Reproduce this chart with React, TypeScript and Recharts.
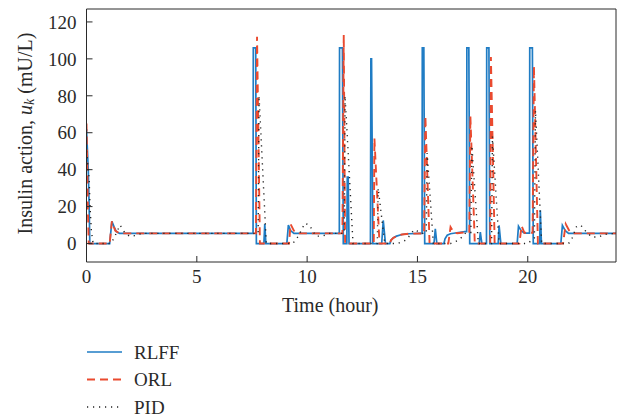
import React from "react";
import { Line, LineChart, XAxis, YAxis } from "recharts";

// [time (hour), insulin action (mU/L)]
const rlffPoints: [number, number][] = [
  [0, 62], [0.08, 40], [0.12, 20], [0.15, 0], [1.05, 0], [1.15, 12], [1.25, 9], [1.35, 6.5], [1.5, 5.5],
  [7.55, 5.5], [7.56, 106], [7.67, 106], [7.7, 0], [8.04, 0], [8.08, 10.5], [8.13, 0],
  [9.08, 0], [9.15, 10], [9.25, 7], [9.4, 5.5], [11.46, 5.5], [11.47, 106], [11.6, 106], [11.64, 0],
  [11.8, 0], [11.82, 36], [11.86, 36], [11.9, 0], [12.87, 0], [12.89, 100], [12.92, 100], [12.98, 0],
  [13.38, 0], [13.45, 12.5], [13.55, 0], [13.75, 0], [13.8, 1.8], [13.9, 3], [14.05, 4], [14.3, 4.9],
  [14.6, 5.3], [15.1, 5.5], [15.21, 5.5], [15.22, 106], [15.29, 106], [15.33, 0], [15.75, 0], [15.81, 8],
  [15.88, 0], [16.2, 0], [16.25, 2.5], [16.35, 4.5], [16.5, 5.3], [17.15, 6.5], [17.23, 6.5], [17.24, 106],
  [17.33, 106], [17.37, 0], [17.8, 0], [17.85, 6.2], [17.92, 0], [18.13, 0], [18.14, 106], [18.24, 106],
  [18.28, 0], [18.66, 0], [18.7, 9.8], [18.78, 0], [19.52, 0], [19.58, 9.4], [19.7, 7], [19.85, 5.6],
  [20.08, 5.6], [20.09, 106], [20.21, 106], [20.25, 0], [20.54, 0], [20.57, 18], [20.62, 0], [21.5, 0],
  [21.57, 9.8], [21.7, 7], [21.85, 5.5], [24, 5.5],
];

const orlPoints: [number, number][] = [
  [0, 65], [0.03, 45], [0.06, 20], [0.1, 0], [1.05, 0], [1.15, 12], [1.3, 7], [1.5, 5.5],
  [7.68, 5.5], [7.73, 112], [7.86, 0], [9.18, 0], [9.25, 10.5], [9.4, 7], [9.55, 5.5],
  [11.6, 5.5], [11.66, 113], [11.72, 0], [13.02, 0], [13.05, 57], [13.28, 0], [13.75, 0], [13.8, 1.8],
  [13.9, 3], [14.05, 4], [14.3, 4.9], [14.6, 5.3], [15.3, 5.5], [15.36, 69], [15.55, 0], [16.4, 0],
  [16.5, 8.9], [16.65, 6], [16.8, 5.6], [17.35, 6.3], [17.4, 69], [17.6, 0], [18.3, 0], [18.33, 101],
  [18.5, 0], [19.62, 0], [19.72, 9.5], [19.85, 5.8], [20.22, 5.8], [20.28, 96], [20.46, 0], [21.6, 0],
  [21.72, 10.5], [21.9, 6.5], [22.1, 5.5], [24, 5.5],
];

const pidPoints: [number, number][] = [
  [0, 50], [0.12, 35], [0.16, 20], [0.22, 7], [0.3, 0], [1.1, 0], [1.25, 3], [1.52, 10], [1.72, 6.2],
  [1.94, 4], [2.2, 4.3], [2.5, 5.5], [7.78, 5.5], [7.82, 80], [8.15, 0], [9.35, 0], [9.6, 4], [9.9, 11],
  [10.1, 10], [10.4, 4], [10.7, 4], [11.0, 5.5], [11.68, 5.5], [11.72, 80], [12.08, 0], [13.18, 0],
  [13.22, 30], [13.52, 0], [14.1, 0], [14.5, 2], [14.85, 7.5], [15.25, 5.5], [15.4, 5.5], [15.44, 49],
  [15.72, 0], [16.5, 0], [16.9, 2], [17.2, 6], [17.42, 6], [17.47, 53], [17.76, 0], [18.36, 0], [18.4, 58],
  [18.7, 0], [20.0, 0], [20.3, 3], [20.35, 72], [20.63, 0], [21.85, 0], [22.0, 2.5], [22.2, 9], [22.4, 10],
  [22.6, 7], [22.9, 3.5], [23.2, 3.5], [23.5, 5], [24, 5.5],
];

const xTicks = [0, 5, 10, 15, 20];
const yTicks = [0, 20, 40, 60, 80, 100, 120];

const series = [
  { name: "RLFF", points: rlffPoints, color: "#1f7cc4", dash: undefined, width: 1.7 },
  { name: "ORL", points: orlPoints, color: "#ea4a2f", dash: "8 5", width: 1.9 },
  { name: "PID", points: pidPoints, color: "#222222", dash: "1.2 4.8", width: 1.4 },
];

const font = "'Liberation Serif', 'Times New Roman', serif";
const ink = "#2a2a2a";
const tickStyle = { fontSize: 19, fill: ink, fontFamily: font };

function YLabel({ viewBox }: any) {
  const cx = 25;
  const cy = viewBox.y + viewBox.height / 2 - 2;
  return (
    <text
      x={cx}
      y={cy}
      transform={`rotate(-90, ${cx}, ${cy})`}
      textAnchor="middle"
      dominantBaseline="central"
      fontSize={20}
      fontFamily={font}
      fill={ink}
    >
      Insulin action, <tspan fontStyle="italic">u</tspan>
      <tspan fontStyle="italic" fontSize={14} dy={4}>k</tspan>
      <tspan dy={-4}> (mU/L)</tspan>
    </text>
  );
}

function XLabel({ viewBox }: any) {
  return (
    <text
      x={viewBox.x + viewBox.width / 2 - 21}
      y={viewBox.y + 43}
      textAnchor="middle"
      dominantBaseline="central"
      fontSize={20}
      fontFamily={font}
      fill={ink}
    >
      Time (hour)
    </text>
  );
}

function LegendBox() {
  return (
    <svg width={200} height={90} style={{ position: "absolute", left: 80, top: 330 }}>
      {series.map((s, i) => {
        const y = 22 + i * 27.5;
        return (
          <g key={s.name}>
            <line x1={7} x2={42} y1={y} y2={y} stroke={s.color} strokeWidth={s.width} strokeDasharray={s.dash} />
            <text x={54} y={y} dominantBaseline="central" fontSize={19} fontFamily={font} fill={ink}>
              {s.name}
            </text>
          </g>
        );
      })}
    </svg>
  );
}

export default function App() {
  return (
    <div style={{ position: "absolute", left: 0, top: 0, width: 622, height: 417, background: "#fff" }}>
      <LineChart width={622} height={417} margin={{ top: 8, right: 5, left: 0, bottom: 95 }}>
        <XAxis
          xAxisId="bottom"
          type="number"
          dataKey="t"
          domain={[0, 24]}
          ticks={xTicks}
          allowDataOverflow
          height={60}
          tickSize={-6}
          tickMargin={14}
          tick={tickStyle}
          stroke={ink}
          tickLine={{ stroke: ink }}
          label={<XLabel />}
        />
        <XAxis
          xAxisId="top"
          orientation="top"
          type="number"
          dataKey="t"
          domain={[0, 24]}
          ticks={xTicks}
          height={1}
          tickSize={-6}
          tickFormatter={() => ""}
          stroke={ink}
        />
        <YAxis
          yAxisId="left"
          type="number"
          domain={[-10, 127]}
          ticks={yTicks}
          allowDataOverflow
          width={86.5}
          tickSize={-6}
          tickMargin={16}
          tick={tickStyle}
          stroke={ink}
          label={<YLabel />}
        />
        <YAxis
          yAxisId="right"
          orientation="right"
          type="number"
          domain={[-10, 127]}
          ticks={yTicks}
          width={1}
          tickSize={-6}
          tickFormatter={() => ""}
          stroke={ink}
        />
        {series.map((s) => (
          <Line
            key={s.name}
            xAxisId="bottom"
            yAxisId="left"
            data={s.points.map(([t, v]) => ({ t, v }))}
            dataKey="v"
            name={s.name}
            type="linear"
            stroke={s.color}
            strokeWidth={s.width}
            strokeDasharray={s.dash}
            dot={false}
            activeDot={false}
            isAnimationActive={false}
          />
        ))}
      </LineChart>
      <LegendBox />
    </div>
  );
}
